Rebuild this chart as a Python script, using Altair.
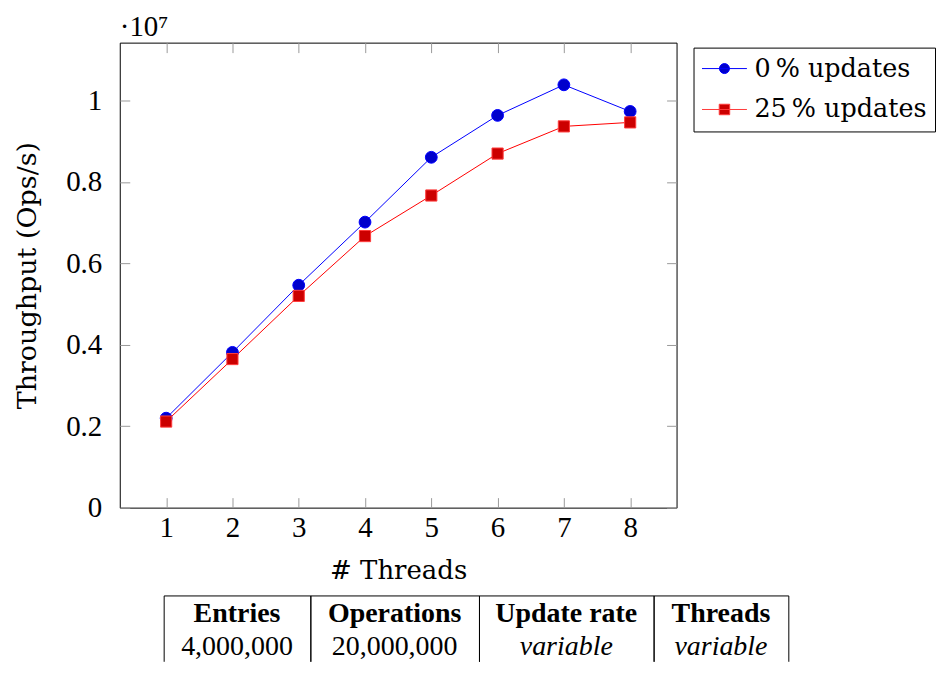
import altair as alt
import pandas as pd

# ---------------- data ----------------
threads = [1, 2, 3, 4, 5, 6, 7, 8]
tp_upd0 = [2197000, 3813000, 5462000, 7012000, 8604000, 9633000, 10384000, 9730000]
tp_upd25 = [2114000, 3649000, 5200000, 6669000, 7666000, 8695000, 9363000, 9461000]
series_names = ["0\u2009% updates", "25\u2009% updates"]
y_ticks = [0, 2000000, 4000000, 6000000, 8000000, 10000000]
y_max = 11420000
x_domain = [0.3, 8.7]

table_headers = ["Entries", "Operations", "Update rate", "Threads"]
table_values = ["4,000,000", "20,000,000", "variable", "variable"]
table_italic = [False, False, True, True]

# ---------------- styles ----------------
SERIF = "DejaVu Serif"
MATH = "Liberation Serif"
line_colors = ["#0000ff", "#ff0000"]
fill_colors = ["#0000cc", "#cc0000"]
stroke_colors = ["#0000ff", "#ff3b3b"]
point_shapes = ["circle", "square"]
legend_paths = [
    "M-1,0L1,0M0.222,0A0.222,0.222,0,1,1,-0.222,0A0.222,0.222,0,1,1,0.222,0Z",
    "M-1,0L1,0M-0.233,-0.233L0.233,-0.233L0.233,0.233L-0.233,0.233Z",
]
table_col_widths = [147, 169, 175, 135]
table_indent = 44
table_height = 66

rows = []
for t, a, b in zip(threads, tp_upd0, tp_upd25):
    rows.append({"threads": t, "throughput": a, "series": series_names[0]})
    rows.append({"threads": t, "throughput": b, "series": series_names[1]})
df = pd.DataFrame(rows)

x_scale = alt.Scale(domain=x_domain, nice=False, zero=False)
y_scale = alt.Scale(domain=[0, y_max], nice=False, zero=False)


def xenc(axis):
    return alt.X("threads:Q", scale=x_scale, axis=axis)


def yenc(axis):
    return alt.Y("throughput:Q", scale=y_scale, axis=axis)


bottom_axis = alt.Axis(
    orient="bottom", values=threads, format="d", offset=-10, tickSize=10,
    domain=False, grid=False, tickColor="#9a9a9a", tickWidth=1,
    labelPadding=6, labelFont=MATH, labelFontSize=29, labelColor="black",
    title="# Threads", titleFont=SERIF, titleFontSize=26,
    titleFontWeight="normal", titleColor="black", titlePadding=15,
    minExtent=0,
)
top_axis = alt.Axis(
    orient="top", values=threads, offset=-10, tickSize=10, domain=False,
    grid=False, labels=False, tickColor="#9a9a9a", tickWidth=1, title=None,
    minExtent=0, maxExtent=0,
)
left_axis = alt.Axis(
    orient="left", values=y_ticks, offset=-10, tickSize=10, domain=False,
    grid=False, tickColor="#9a9a9a", tickWidth=1,
    labelExpr="format(datum.value / 10000000, '.1~f')",
    labelPadding=18, labelFont=MATH, labelFontSize=29, labelColor="black",
    title="Throughput (Ops/s)", titleFont=SERIF, titleFontSize=27,
    titleFontWeight="normal", titleColor="black", titlePadding=24,
    minExtent=0,
)
right_axis = alt.Axis(
    orient="right", values=y_ticks, offset=-10, tickSize=10, domain=False,
    grid=False, labels=False, tickColor="#9a9a9a", tickWidth=1, title=None,
    minExtent=0, maxExtent=0,
)

layers = []
for i, name in enumerate(series_names):
    ax_x = bottom_axis if i == 0 else None
    ax_y = left_axis if i == 0 else None
    line = (
        alt.Chart(df)
        .transform_filter(alt.datum.series == name)
        .mark_line(color=line_colors[i], strokeWidth=1)
        .encode(x=xenc(ax_x), y=yenc(ax_y))
    )
    layers.append(line)
for i, name in enumerate(series_names):
    ax_x = top_axis if i == 0 else None
    ax_y = right_axis if i == 0 else None
    pts = (
        alt.Chart(df)
        .transform_filter(alt.datum.series == name)
        .mark_point(
            filled=True, shape=point_shapes[i], size=140 if i == 0 else 125,
            fill=fill_colors[i], stroke=stroke_colors[i], strokeWidth=1,
            opacity=1,
        )
        .encode(x=xenc(ax_x), y=yenc(ax_y))
    )
    layers.append(pts)

legend = alt.Legend(
    title=None, orient="none", legendX=575, legendY=5, padding=8,
    strokeColor="black", fillColor="white", cornerRadius=0,
    labelFont=SERIF, labelFontSize=25.5, labelColor="black", labelLimit=400,
    labelOffset=7, rowPadding=14, clipHeight=26, symbolSize=2025,
    symbolStrokeWidth=1,
)
legend_layer = (
    alt.Chart(df)
    .transform_filter(alt.datum.threads < 0)
    .mark_point(filled=True, size=2025, strokeWidth=1, opacity=1)
    .encode(
        x=xenc(None),
        y=yenc(None),
        shape=alt.Shape("series:N", scale=alt.Scale(domain=series_names, range=legend_paths), legend=legend),
        fill=alt.Fill("series:N", scale=alt.Scale(domain=series_names, range=fill_colors), legend=legend),
        stroke=alt.Stroke("series:N", scale=alt.Scale(domain=series_names, range=stroke_colors), legend=legend),
    )
)
layers.append(legend_layer)

main = (
    alt.layer(*layers)
    .resolve_axis(x="independent", y="independent")
    .properties(
        width=558, height=466,
        title=alt.TitleParams(
            text="\u00b710\u2077", anchor="start", frame="group",
            font=MATH, fontSize=29, fontWeight="normal", color="black",
            offset=0,
        ),
    )
)


def table_col(i):
    w = table_col_widths[i]
    h = table_height
    d = pd.DataFrame({"row": [0, 1], "text": [table_headers[i], table_values[i]]})
    base = alt.Chart(d).encode(
        y=alt.Y("row:Q", scale=alt.Scale(domain=[-0.576, 1.424], reverse=True, nice=False, zero=False), axis=None),
        text="text:N",
    )
    head = base.transform_filter(alt.datum.row == 0).mark_text(
        font=MATH, fontSize=28, fontWeight="bold", color="black", baseline="middle"
    )
    body = base.transform_filter(alt.datum.row == 1).mark_text(
        font=MATH, fontSize=28, fontStyle="italic" if table_italic[i] else "normal",
        color="black", baseline="middle",
    )
    # open-bottom cell border: top + right drawn, bottom skipped, left drawn
    return alt.layer(head, body).properties(
        width=w, height=h,
        view=alt.ViewBackground(stroke="black", strokeWidth=1, strokeDash=[w + h, w, h + 2, 0]),
    )


spacer = (
    alt.Chart(pd.DataFrame({"row": [0]}))
    .mark_point(opacity=0)
    .properties(width=table_indent, height=table_height, view=alt.ViewBackground(stroke="transparent"))
)

table = alt.hconcat(
    spacer, *[table_col(i) for i in range(len(table_headers))], spacing=0, bounds="flush"
)

chart = (
    alt.vconcat(main, table, spacing=10)
    .properties(padding={"left": 5, "top": 4, "right": 0, "bottom": 0})
    .configure_view(stroke="black", strokeWidth=1)
)

chart.save("out.html", embed_options={"renderer": "svg", "actions": False})
